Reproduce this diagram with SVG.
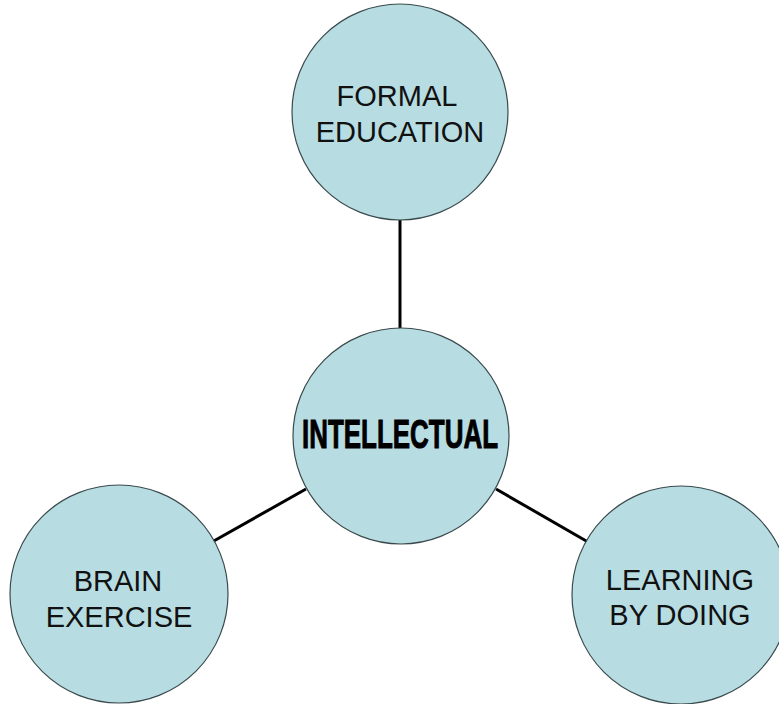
<svg xmlns="http://www.w3.org/2000/svg" width="779" height="704" viewBox="0 0 779 704">
<style>
.node{fill:#B7DDE3;stroke:#3a4a4c;stroke-width:1.2}
.lbl{font-family:"Liberation Sans",Arial,sans-serif;font-size:29px;fill:#111;text-anchor:middle}
.big{font-family:"Liberation Sans",Arial,sans-serif;font-weight:bold;font-size:40px;fill:#000;stroke:#000;stroke-width:1;text-anchor:middle}
.edge{stroke:#000;stroke-width:3;fill:none}
</style>
<rect width="779" height="704" fill="#fff"/>
<g id="connectors">
<line class="edge" x1="400" y1="219" x2="400" y2="329"/>
<line class="edge" x1="212" y1="542" x2="306" y2="489"/>
<line class="edge" x1="496" y1="489" x2="588" y2="542"/>
</g>
<g id="formal-education">
<circle class="node" cx="400" cy="112" r="108"/>
<text class="lbl" x="397" y="106">FORMAL</text>
<text class="lbl" x="400" y="142">EDUCATION</text>
</g>
<g id="intellectual">
<circle class="node" cx="401" cy="436" r="108"/>
<text class="big" x="400" y="448" textLength="196" lengthAdjust="spacingAndGlyphs">INTELLECTUAL</text>
</g>
<g id="brain-exercise">
<circle class="node" cx="119" cy="594" r="109"/>
<text class="lbl" x="118" y="591">BRAIN</text>
<text class="lbl" x="119" y="627">EXERCISE</text>
</g>
<g id="learning-by-doing">
<circle class="node" cx="681" cy="595" r="109"/>
<text class="lbl" x="680" y="590">LEARNING</text>
<text class="lbl" x="680" y="625">BY DOING</text>
</g>
</svg>
